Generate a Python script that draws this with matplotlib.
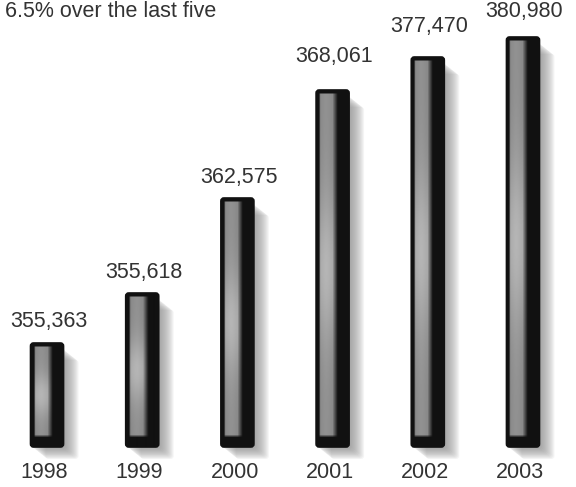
import numpy as np
import matplotlib
matplotlib.use("Agg")
import matplotlib.pyplot as plt
from matplotlib.patches import FancyBboxPatch

plt.rcParams['font.family'] = ['Liberation Sans', 'DejaVu Sans']

years = ['1998', '1999', '2000', '2001', '2002', '2003']
values = [355363, 355618, 362575, 368061, 377470, 380980]
# bar heights as drawn in the picture (the picture is not to scale)
heights = [104, 154, 249, 357, 390, 410]
title = "6.5% over the last five"

fig = plt.figure(figsize=(5.76, 4.87), dpi=100)
ax = fig.add_axes([0, 0, 1, 1])
ax.set_xlim(-0.494, 5.557)
ax.set_ylim(-40, 447)
ax.axis('off')

pxx = 576 / (5.557 + 0.494)   # pixels per x unit
w = 33 / pxx
r = 3 / pxx


def bar_image(h):
    ny = int(round(h))
    nx = 33
    x = (np.arange(nx) + 0.5) / nx
    rows = np.arange(ny)
    prof = np.clip((x - 0.09) / 0.05, 0, 1) * np.clip((0.66 - x) / 0.16, 0, 1)
    prof = prof * (0.92 + 0.08 * np.exp(-((x - 0.32) / 0.15) ** 2))
    yy = (rows + 0.5) / ny
    vert = 0.5 + 0.14 * np.exp(-((yy - 0.5) / 0.2) ** 2)
    top = np.clip((rows - 2) / 2.0, 0, 1)
    bot = np.clip((ny - rows - 10) / 3.0, 0, 1)
    return 0.07 + prof[None, :] * (vert * top * bot)[:, None]


for i, (h, v) in enumerate(zip(heights, values)):
    x0 = i - w / 2
    # drop shadow
    for k in range(1, 16):
        sh = FancyBboxPatch((x0 + k * 1.0 / pxx, -k * 0.8), w, h - 5,
                            boxstyle=f"round,pad=0,rounding_size={r}",
                            mutation_aspect=pxx, fc='#888888', ec='none',
                            alpha=0.08, zorder=1)
        ax.add_patch(sh)
    body = FancyBboxPatch((x0, 0), w, h,
                          boxstyle=f"round,pad=0,rounding_size={r}",
                          mutation_aspect=pxx, fc='#111111', ec='#111111',
                          lw=1.2, zorder=2)
    ax.add_patch(body)
    im = ax.imshow(bar_image(h), cmap='gray', vmin=0, vmax=1,
                   extent=[x0, x0 + w, 0, h], origin='upper',
                   aspect='auto', interpolation='bilinear', zorder=3)
    im.set_clip_path(body)

pads = [11, 10, 10, 23, 20, 15]
for i, (h, v) in enumerate(zip(heights, values)):
    ax.annotate(f"{v:,}", (i, h), xytext=(1, pads[i] * 0.72),
                textcoords='offset points', ha='center', va='bottom',
                fontsize=15.5, color='#333333')
    ax.annotate(years[i], (i, 0), xytext=(-2, -25 * 0.72),
                textcoords='offset points', ha='center', va='center',
                fontsize=15.5, color='#333333')

fig.text(5 / 576, 1 - 17 / 487, title, ha='left', va='baseline',
         fontsize=15.5, color='#333333')

fig.savefig('out.png', dpi=100, facecolor='white')
